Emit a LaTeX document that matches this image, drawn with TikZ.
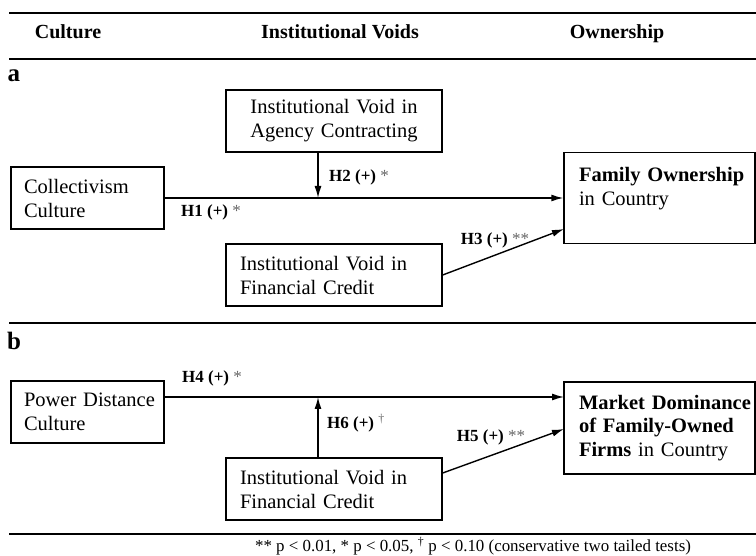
\documentclass[tikz,border=0pt]{standalone}
\usepackage{fontspec}
\setmainfont{Liberation Serif}
\usetikzlibrary{positioning,arrows.meta}

\tikzset{
  vbox/.style={draw, line width=1.4pt, inner xsep=14pt, inner ysep=0pt, align=left,
    minimum height=62pt, font=\fontsize{20.5}{24}\selectfont},
  hyp/.style={font=\fontsize{17}{20}\selectfont},
  head/.style={anchor=base, font=\fontsize{20}{24}\selectfont\bfseries},
  panel/.style={font=\fontsize{25}{30}\selectfont\bfseries},
  rule/.style={line width=2.6pt},
  arr/.style={line width=1.4pt, -{Latex[length=12pt,width=7pt]}},
}
\newcommand{\sig}[1]{{\color{black!60}#1}}

\begin{document}
\begin{tikzpicture}[x=1pt, y=-1pt]
\useasboundingbox (0,0) rectangle (756,556);

\def\xl{87.5}
\def\xm{334}
\def\xr{659.5}
\def\xv{318}

\def\ya{121}
\def\yb{198}
\def\yc{275}
\def\yd{397}
\def\ye{489}

% header
\draw[rule] (9,13) -- (756,13);
\node[head] (hc) at (68,39) {Culture};
\node[head] (hv) at (340,39) {Institutional Voids};
\node[head] (ho) at (617,39) {Ownership};
\draw[rule] (9,59) -- (756,59);

% panel a
\node[panel] (pa) at (14,76) {a};
\node[vbox, text width=188pt, align=center] (agency) at (\xm, \ya) {Institutional Void in\\Agency Contracting};
\node[vbox, inner xsep=13pt, text width=127pt] (coll) at (\xl, \yb) {\mbox{Collectivism}\\Culture};
\node[vbox, text width=188pt] (creda) at (\xm, \yc) {\mbox{Institutional Void in}\\Financial Credit};
\node[vbox, inner xsep=15pt, text width=161pt, minimum height=91pt] (fam) at (\xr, \yb) {\mbox{\textbf{Family Ownership}}\\in Country\\ \mbox{}};

\coordinate (h2) at (\xv, \yb);
\coordinate (f3) at (564, 229);
\draw[arr] (coll.east) -- (coll.east -| fam.west);
\draw[arr] (agency.south -| h2) -- (h2);
\draw[arr] (creda.east) -- (f3);

\node[hyp] (l1) at (211, 212) {\textbf{H1 (+)} \sig{*}};
\node[hyp] (l2) at (359, 177) {\textbf{H2 (+)} \sig{*}};
\node[hyp] (l3) at (495, 240) {\textbf{H3 (+)} \sig{**}};

\draw[rule, line width=2.2pt] (9,323) -- (756,323);

% panel b
\node[panel] (pb) at (14,341) {b};
\node[vbox, inner xsep=13pt, text width=127pt] (power) at (\xl, 412) {\mbox{Power Distance}\\Culture};
\node[vbox, text width=188pt] (credb) at (\xm, \ye) {\mbox{Institutional Void in}\\Financial Credit};
\node[vbox, inner xsep=15pt, text width=161pt, minimum height=92pt, font=\fontsize{20.5}{23.5}\selectfont] (market) at (\xr, 428) {\mbox{\textbf{Market Dominance}}\\\mbox{\textbf{of Family-Owned}}\\\mbox{\textbf{Firms} in Country}};

\coordinate (m4) at (564, \yd);
\coordinate (h6) at (\xv, \yd);
\coordinate (c5) at (442, 473);
\coordinate (m5) at (564, 429);
\draw[arr] (power.east |- m4) -- (m4);
\draw[arr] (credb.north -| h6) -- (h6);
\draw[arr] (credb.east |- c5) -- (m5);

\node[hyp] (l4) at (212, 378) {\textbf{H4 (+)} \sig{*}};
\node[hyp] (l5) at (491, 437) {\textbf{H5 (+)} \sig{**}};
\node[hyp] (l6) at (356, 423) {\textbf{H6 (+)} \sig{\textsuperscript{\textdagger}}};

% footnote
\draw[rule] (9,534) -- (756,534);
\node[anchor=base, inner sep=0pt, font=\fontsize{16.9}{19}\selectfont] (note) at (473, 551.5) {** p < 0.01, * p < 0.05, \textsuperscript{\textdagger} p < 0.10 (conservative two tailed tests)};

\end{tikzpicture}
\end{document}
